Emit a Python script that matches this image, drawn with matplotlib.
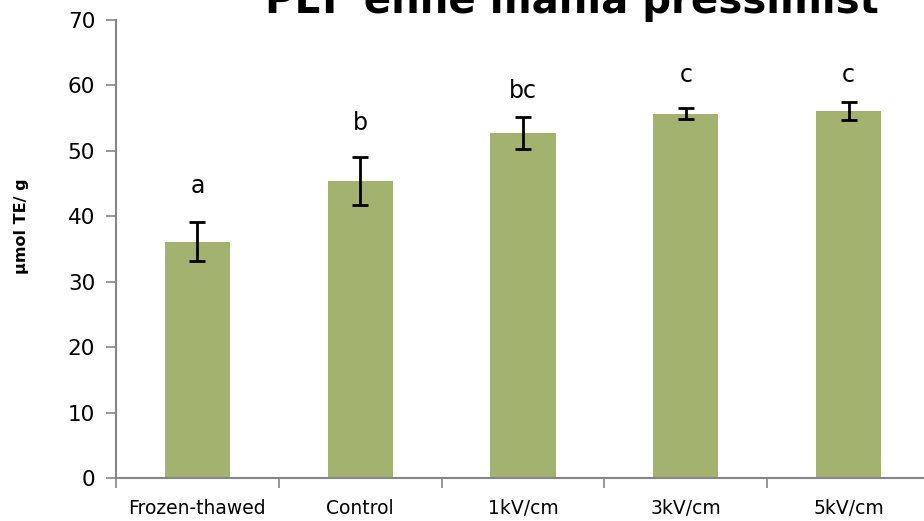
import matplotlib
matplotlib.use("Agg")
import matplotlib.pyplot as plt
import numpy as np

categories = ["Frozen-thawed", "Control", "1kV/cm", "3kV/cm", "5kV/cm"]
values = [36.1, 45.4, 52.7, 55.7, 56.1]
errors = [3.0, 3.7, 2.4, 0.8, 1.4]
letters = ["a", "b", "bc", "c", "c"]
letter_pos = [44.6, 54.3, 59.2, 61.6, 61.6]
yticks = [0, 10, 20, 30, 40, 50, 60, 70]

W, H = 924, 521
fig = plt.figure(figsize=(W / 100, H / 100), dpi=100)
ax = fig.add_axes([116 / W, 43 / H, (930 - 116) / W, (478 - 20) / H])

x = np.arange(len(categories))
ax.bar(x, values, width=0.4, color="#A3B26F", zorder=2)
ax.errorbar(x, values, yerr=errors, fmt="none", ecolor="black",
            elinewidth=2, capsize=6, capthick=2, zorder=3)

for xi, lab, ly in zip(x, letters, letter_pos):
    ax.text(xi, ly, lab, ha="center", va="center", fontsize=17,
            family="DejaVu Sans", color="black")

ax.set_xlim(-0.5, len(categories) - 0.5)
ax.set_ylim(0, 70)
ax.set_yticks(yticks)
ax.set_yticklabels([str(t) for t in yticks], fontsize=15.5, family="DejaVu Sans")

ax.set_xticks(np.arange(-0.5, len(categories), 1.0))
ax.set_xticklabels([])
ax.set_xticks(x, minor=True)
ax.set_xticklabels(categories, minor=True, fontsize=13.5,
                   family=["Liberation Sans Narrow", "DejaVu Sans"])
ax.tick_params(axis="x", which="minor", length=0, pad=15)
ax.tick_params(axis="x", which="major", length=7, width=1.2, color="#868686")
ax.tick_params(axis="y", length=7, width=1.2, color="#868686", pad=8)

for side in ["top", "right"]:
    ax.spines[side].set_visible(False)
for side in ["left", "bottom"]:
    ax.spines[side].set_color("#868686")
    ax.spines[side].set_linewidth(1.5)

fig.text(22 / W, 1 - 226 / H, "µmol TE/ g", rotation=90, ha="center",
         va="center", fontsize=11.5, fontweight="bold", family="DejaVu Sans")

fig.text(572 / W, 1 - 13 / H, "PEF enne mahla pressimist", ha="center",
         va="baseline", fontsize=29, fontweight="bold", family="DejaVu Sans")

fig.savefig("out.png", dpi=100)
